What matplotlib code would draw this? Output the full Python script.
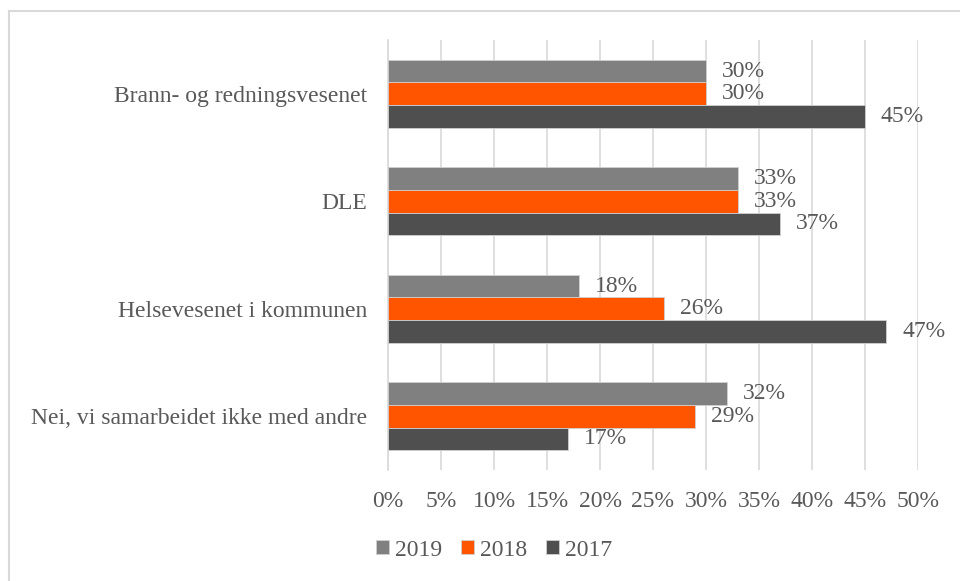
import matplotlib
matplotlib.use("Agg")
import matplotlib.pyplot as plt
import numpy as np
from matplotlib.lines import Line2D

plt.rcParams.update({
    "font.family": ["Liberation Serif", "DejaVu Serif"],
    "font.size": 17,
    "text.color": "#595959",
    "xtick.color": "#595959",
    "ytick.color": "#595959",
})

categories = [
    "Brann- og redningsvesenet",
    "DLE",
    "Helsevesenet i kommunen",
    "Nei, vi samarbeidet ikke med andre",
]
years = ["2019", "2018", "2017"]
v2019 = [30, 33, 18, 32]
v2018 = [30, 33, 26, 29]
v2017 = [45, 37, 47, 17]
xticks = [0, 5, 10, 15, 20, 25, 30, 35, 40, 45, 50]

COLORS = {"2019": "#808080", "2018": "#FF5500", "2017": "#4F4F4F"}
FS = 17

W, H = 960, 581
fig = plt.figure(figsize=(W / 100, H / 100), dpi=100)

# light frame around the chart (runs off the right/bottom edges)
fig.add_artist(Line2D([9 / W, 1.02], [1 - 11 / H, 1 - 11 / H],
                      transform=fig.transFigure, color="#D9D9D9", lw=1.5))
fig.add_artist(Line2D([9 / W, 9 / W], [1 - 11 / H, -0.02],
                      transform=fig.transFigure, color="#D9D9D9", lw=1.5))

ax = fig.add_axes([388 / W, 1 - 470 / H, (918 - 388) / W, 430 / H])

y = np.arange(len(categories))
bh = 0.21
series = [("2019", v2019, -bh), ("2018", v2018, 0.0), ("2017", v2017, bh)]
for name, vals, off in series:
    bars = ax.barh(y + off, vals, height=bh, color=COLORS[name],
                   edgecolor="#D0D0D0", linewidth=0.6, label=name, zorder=3)
    for b, v in zip(bars, vals):
        ax.annotate(f"{v}%", (b.get_width(), b.get_y() + b.get_height() / 2),
                    xytext=(11.5, 0), textcoords="offset points",
                    ha="left", va="center", fontsize=FS, color="#595959",
                    zorder=4)

ax.set_xlim(0, 50)
ax.set_ylim(len(categories) - 0.5, -0.5)
ax.set_xticks(xticks)
ax.set_xticklabels([f"{t}%" for t in xticks])
ax.set_yticks(y)
ax.set_yticklabels(categories)
ax.tick_params(axis="x", length=0, pad=15, labelsize=FS)
ax.tick_params(axis="y", length=0, pad=15, labelsize=FS)
ax.grid(axis="x", color="#D9D9D9", lw=1.2, zorder=0)
for s in ["top", "right", "bottom"]:
    ax.spines[s].set_visible(False)
ax.spines["left"].set_color("#D9D9D9")
ax.spines["left"].set_linewidth(1.2)

ax.legend(loc="center", bbox_to_anchor=(494 / W, 1 - 550 / H),
          bbox_transform=fig.transFigure, ncol=3, frameon=False,
          handlelength=0.55, handleheight=0.55, handletextpad=0.25,
          columnspacing=0.8, fontsize=FS)

fig.savefig("out.png", dpi=100, facecolor="white")
